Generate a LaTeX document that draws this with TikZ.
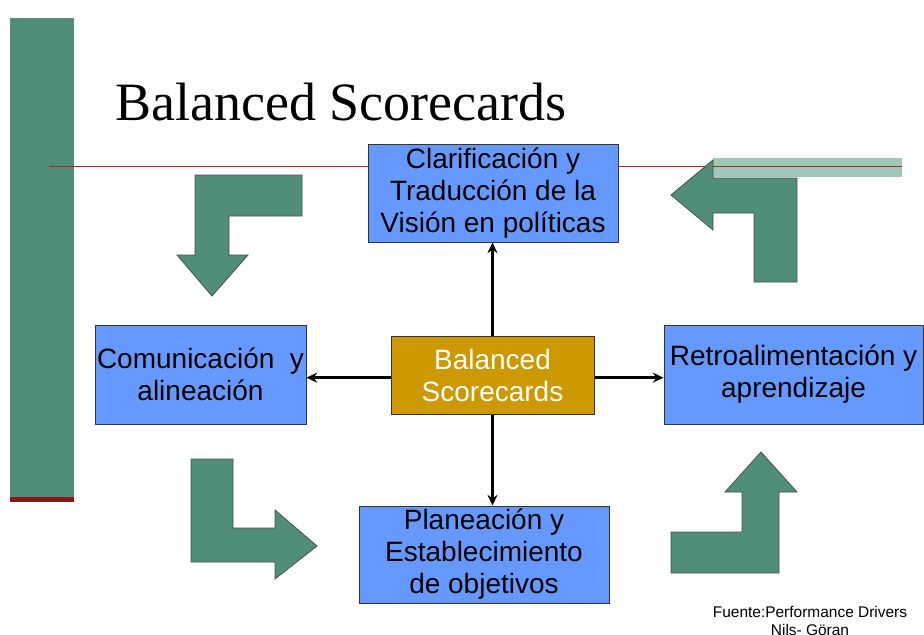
\documentclass[tikz,border=0pt]{standalone}
\usepackage{fontspec}
\setmainfont{Liberation Serif}
\setsansfont{Liberation Sans}
\usetikzlibrary{arrows.meta}
\usetikzlibrary{positioning}

\definecolor{bscgreen}{RGB}{80,142,122}
\definecolor{bscpale}{RGB}{160,200,184}
\definecolor{bscblue}{RGB}{102,153,255}
\definecolor{bscgold}{RGB}{204,153,0}
\definecolor{bscred}{RGB}{175,35,35}
\definecolor{bscstrip}{RGB}{140,22,22}

\tikzset{
  box/.style={draw=black!80, line width=0.75pt, fill=bscblue, align=center,
    inner sep=1pt, font=\sffamily\fontsize{21}{24}\selectfont},
  core/.style={box, fill=bscgold, text=white},
  turnarrow/.style={draw=black!70, line width=0.6pt, fill=bscgreen},
  link/.style={line width=1.9pt, -{Stealth[length=8pt,width=7.5pt]}},
  src/.style={inner sep=0pt, font=\sffamily\fontsize{11.6}{14}\selectfont},
}

\begin{document}
\begin{tikzpicture}[x=0.75pt,y=-0.75pt]
\useasboundingbox (0,0) rectangle (924,635);
% Bar on the left and the rule under the title
\fill[bscgreen] (10,18) rectangle (74,497);
\fill[bscstrip] (10,497) rectangle (74,502);
\fill[bscpale] (713,158) rectangle (902,177);
\draw[bscred, line width=0.75pt] (49,166) -- (902,166);
\node[anchor=base west, inner sep=0pt, font=\fontsize{40.5}{48}\selectfont] (title) at (115,120) {Balanced Scorecards};
% The four bent arrows
\draw[turnarrow] (195,175) -- (302,175) -- (302,216) -- (229,216) -- (229,255) -- (248,255)
  -- (212,296) -- (177,255) -- (195,255) -- cycle; % down
\draw[turnarrow] (671,195) -- (713,160) -- (713,178) -- (797,178) -- (797,282) -- (754,282)
  -- (754,213) -- (713,213) -- (713,230) -- cycle; % left
\draw[turnarrow] (191,459) -- (233,459) -- (233,528) -- (275,528) -- (275,510) -- (317,546)
  -- (275,579) -- (275,562) -- (191,562) -- cycle; % right
\draw[turnarrow] (671,532) -- (742,532) -- (742,492) -- (725,492) -- (761,452) -- (797,492)
  -- (779,492) -- (779,573) -- (671,573) -- cycle; % up
%% The boxes
\node[box, minimum width=187.5pt, minimum height=73.5pt] (clar) at (493,193)
  {Clarificación y\\Traducción de la\\Visión en políticas};
\node[box, minimum width=158.25pt, minimum height=74.25pt] (comun) at (200.5,374.5)
  {Comunicación\ \ y\\alineación};
\node[core, minimum width=152.25pt, minimum height=58.5pt] (bsc) at (492.5,375)
  {Balanced\\Scorecards};
\node[box, minimum width=194.25pt, minimum height=74.25pt] (retro) at (793.5,374.5)
  {Retroalimentación y\\aprendizaje};
\node[box, minimum width=187.5pt, minimum height=72.75pt] (plan) at (484,554.5)
  {Planeación y\\Establecimiento\\de objetivos};
\draw[link] (bsc.north) -- (bsc.north |- clar.south);
\draw[link] ([yshift=-2pt]bsc.west) -- ([yshift=-2pt]bsc.west -| comun.east);
\draw[link] ([yshift=-2pt]bsc.east) -- ([yshift=-2pt]bsc.east -| retro.west);
\draw[link] (bsc.south) -- (bsc.south |- plan.north);
%% Source
\node[src, anchor=base] (fuente) at (810,617) {Fuente:Performance Drivers};
\node[src, anchor=base] (nils) at ([yshift=-14pt]fuente.base) {Nils- Göran};
\end{tikzpicture}
\end{document}
